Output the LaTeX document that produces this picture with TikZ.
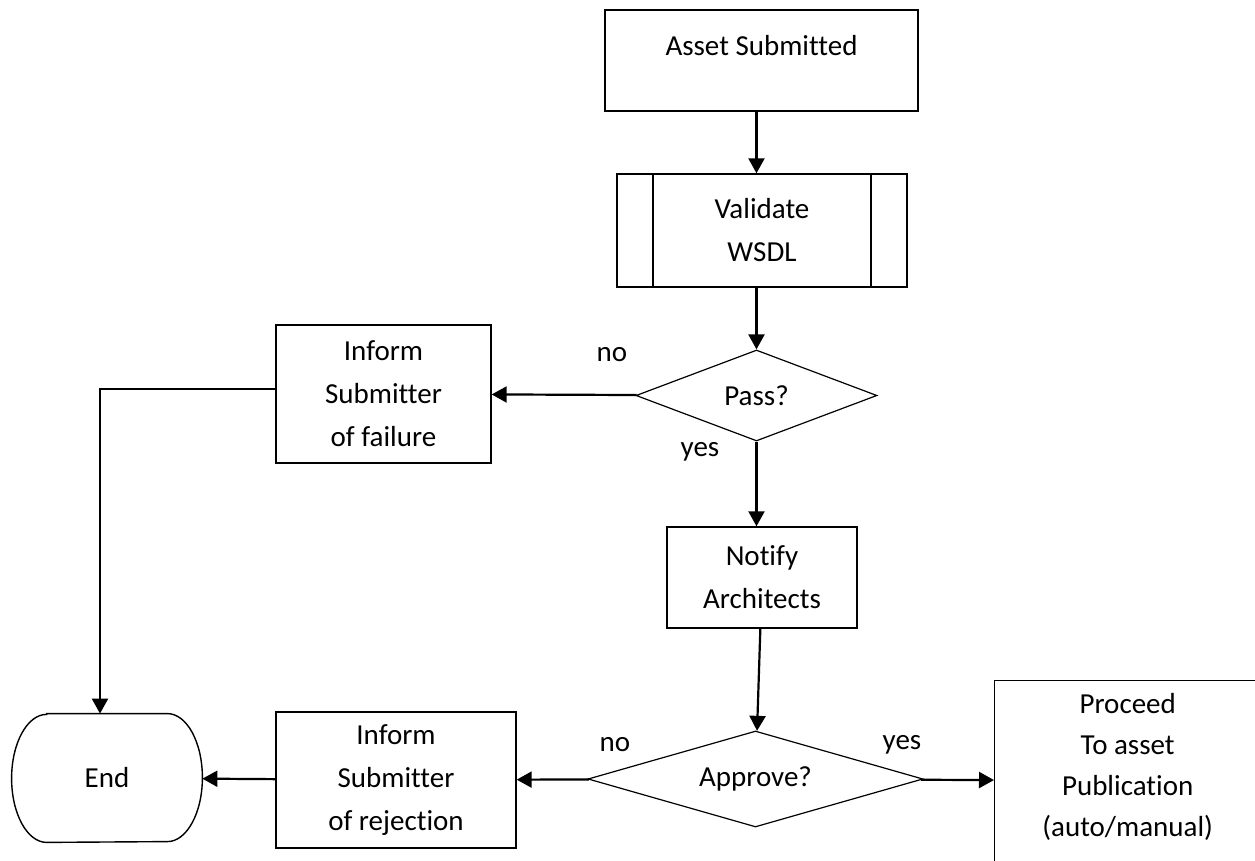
\documentclass[tikz,border=0pt]{standalone}
\usepackage{fontspec}
\setmainfont{Carlito}[Ligatures=NoCommon]
\usetikzlibrary{arrows.meta,shapes.geometric}

\begin{document}
\begin{tikzpicture}[x=0.5pt,y=-0.5pt,>={Triangle[length=7.5pt,width=8pt]},
  every node/.style={font=\fontsize{14.5}{21.5}\selectfont},
  box node/.style={rectangle,draw,line width=0.7pt,align=center,inner sep=0pt},
  process node/.style={box node,path picture={
      \draw[line width=0.7pt] ([xshift=18pt]path picture bounding box.north west) -- ([xshift=18pt]path picture bounding box.south west);
      \draw[line width=0.7pt] ([xshift=-18pt]path picture bounding box.north east) -- ([xshift=-18pt]path picture bounding box.south east);}},
  decision node/.style={diamond,draw,line width=0.6pt,inner sep=0pt,aspect=2.5},
  flow/.style={->,line width=1.1pt}]

  \useasboundingbox (0,0) rectangle (1255,861);
  \clip (0,0) rectangle (1255,861);

  \node[box node,minimum width=156.5pt,text height=23pt,text depth=27.5pt] (submitted) at (761.5,60.5) {Asset Submitted};
  \node[process node,minimum width=145pt,minimum height=56.5pt] (validate) at (762,230.5) {Validate\\WSDL};
  \node[decision node,minimum width=120.5pt,minimum height=45.5pt] (pass) at (756.5,395.5) {Pass?};
  \node[box node,minimum width=107.5pt,minimum height=69pt] (failure) at (383.5,394) {Inform\\Submitter\\of failure};
  \node[box node,minimum width=95pt,minimum height=50.5pt] (notify) at (762,577.5) {Notify\\Architects};
  \node[decision node,minimum width=167.5pt,minimum height=48pt] (approve) at (755.5,779) {Approve?};
  \node[box node,minimum width=120pt,minimum height=68pt] (rejection) at (396,780) {Inform\\Submitter\\of rejection};
  \node[rectangle,minimum width=95pt,minimum height=64pt,inner sep=0pt] (stop) at (107,778) {End};
  \node[box node,anchor=north west,minimum width=133pt,text height=78pt,text depth=22pt,
    font=\fontsize{14.5}{20.5}\selectfont] (proceed) at (994,680) {Proceed\\To asset\\Publication\\(auto/manual)};

  % terminal outline
  \draw[line width=0.7pt] ([xshift=17.5pt]stop.north west) -- ([xshift=-17.5pt]stop.north east)
    arc[start angle=90,end angle=-90,x radius=17.5pt,y radius=32pt]
    -- ([xshift=17.5pt]stop.south west)
    arc[start angle=270,end angle=90,x radius=17.5pt,y radius=32pt] -- cycle;

  \node (passno) at (612,355) {no};
  \node (passyes) at (700,452) {yes};
  \node (approveno) at (615,745) {no};
  \node (approveyes) at (902,745) {yes};

  \path[every edge/.style={draw,flow}]
    (submitted.south -| pass) edge (validate.north -| pass)
    (validate.south -| pass) edge (pass.north)
    (pass) edge (failure)
    (pass.south) edge (pass.south |- notify.north)
    (notify) edge (approve)
    (approve) edge (rejection)
        edge (proceed)
    (rejection) edge (stop);
  \draw[flow] ([yshift=2.5pt]failure.west) -| ([xshift=-3.5pt]stop.north);
\end{tikzpicture}
\end{document}
